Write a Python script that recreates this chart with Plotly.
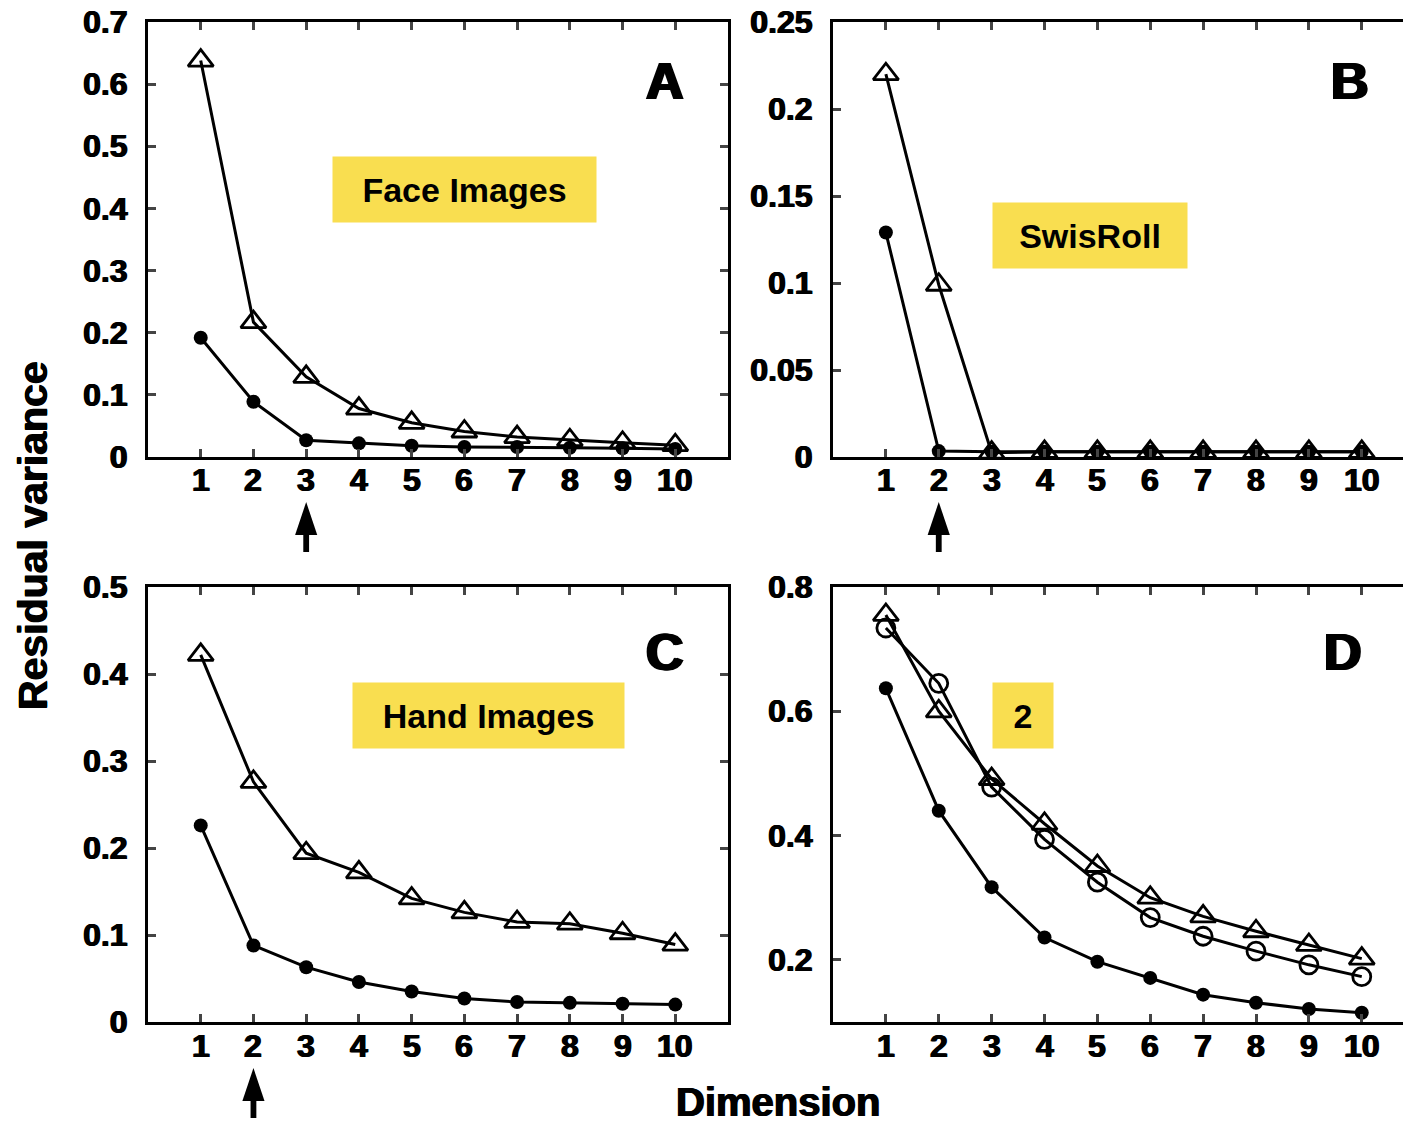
import plotly.graph_objects as go

# ---- data -------------------------------------------------------------
dims = [1, 2, 3, 4, 5, 6, 7, 8, 9, 10]
dim_labels = ["1", "2", "3", "4", "5", "6", "7", "8", "9", "10"]

face_tri = [0.638, 0.217, 0.129, 0.078, 0.055, 0.041, 0.032, 0.027, 0.023, 0.019]
face_dot = [0.192, 0.089, 0.027, 0.022, 0.018, 0.016, 0.016, 0.015, 0.014, 0.013]

swiss_tri = [0.220, 0.099, 0.0025, 0.003, 0.003, 0.003, 0.003, 0.003, 0.003, 0.003]
swiss_dot = [0.129, 0.0034, 0.003, 0.003, 0.003, 0.003, 0.003, 0.003, 0.003, 0.003]

hand_tri = [0.422, 0.276, 0.194, 0.172, 0.142, 0.126, 0.115, 0.113, 0.102, 0.089]
hand_dot = [0.226, 0.088, 0.063, 0.046, 0.035, 0.027, 0.023, 0.022, 0.021, 0.020]

d_tri = [0.755, 0.600, 0.491, 0.419, 0.351, 0.300, 0.270, 0.246, 0.224, 0.202]
d_circ = [0.734, 0.645, 0.478, 0.394, 0.325, 0.268, 0.238, 0.214, 0.192, 0.173]
d_dot = [0.637, 0.440, 0.317, 0.236, 0.197, 0.171, 0.144, 0.131, 0.121, 0.115]

yticks_a = [0, 0.1, 0.2, 0.3, 0.4, 0.5, 0.6, 0.7]
ytext_a = ["0", "0.1", "0.2", "0.3", "0.4", "0.5", "0.6", "0.7"]
yticks_b = [0, 0.05, 0.1, 0.15, 0.2, 0.25]
ytext_b = ["0", "0.05", "0.1", "0.15", "0.2", "0.25"]
yticks_c = [0, 0.1, 0.2, 0.3, 0.4, 0.5]
ytext_c = ["0", "0.1", "0.2", "0.3", "0.4", "0.5"]
yticks_d = [0.2, 0.4, 0.6, 0.8]
ytext_d = ["0.2", "0.4", "0.6", "0.8"]

panel_letters = ["A", "B", "C", "D"]
panel_names = ["Face Images", "SwisRoll", "Hand Images", "2"]
arrow_dims = [3, 2, 2]  # intrinsic dimensionality marked under A, B, C

# ---- figure -----------------------------------------------------------
W, H = 1403, 1126
FONT = "Liberation Sans, Arial, sans-serif"
YELLOW = "#F9DE50"
HEAVY = "0.7px 0 0 black, -0.7px 0 0 black"


def px(x):
    return x / W


def py(y):
    return 1 - y / H


fig = go.Figure()

LINE = dict(color="black", width=3)
TRI = dict(symbol="triangle-up-open", size=22, color="black", line=dict(width=2.8, color="black"))
DOT = dict(symbol="circle", size=14, color="black")
CIRC = dict(symbol="circle-open", size=18, color="black", line=dict(width=2.8, color="black"))


def add(y, marker, xa, ya):
    fig.add_trace(go.Scatter(x=dims, y=y, mode="lines+markers", line=LINE,
                             marker=marker, xaxis=xa, yaxis=ya,
                             showlegend=False, hoverinfo="skip"))


add(face_dot, DOT, "x", "y")
add(face_tri, TRI, "x", "y")
add(swiss_dot, DOT, "x2", "y2")
add(swiss_tri, TRI, "x2", "y2")
add(hand_dot, DOT, "x3", "y3")
add(hand_tri, TRI, "x3", "y3")
add(d_dot, DOT, "x4", "y4")
add(d_circ, CIRC, "x4", "y4")
add(d_tri, TRI, "x4", "y4")

tickfont = dict(family=FONT, size=32, color="black", weight="bold", shadow=HEAVY)

left_dom = [px(148), px(728)]
right_dom = [px(833), 1.0]
top_dom = [py(457), py(22)]
bot_dom = [py(1022), py(587)]


def xaxis(dom, rng, anchor):
    # dimension labels are placed as annotations just under the frame
    return dict(domain=dom, range=rng, anchor=anchor, tickvals=dims,
                showticklabels=False, ticks="inside", ticklen=8,
                tickwidth=2.5, showline=True, linewidth=3, linecolor="black",
                mirror="ticks", showgrid=False, zeroline=False, automargin=False,
                fixedrange=True)


def yaxis(dom, rng, anchor, vals, text, full):
    return dict(domain=dom, range=rng, anchor=anchor, tickvals=vals,
                ticktext=text, ticks="inside", ticklen=8, tickwidth=2.5,
                showline=True, linewidth=3, linecolor="black",
                mirror="ticks" if full else False, showgrid=False,
                zeroline=False, automargin=False, tickfont=tickfont,
                ticklabelstandoff=11, fixedrange=True)


fig.update_layout(
    width=W, height=H,
    margin=dict(l=0, r=0, t=0, b=0, autoexpand=False),
    paper_bgcolor="white", plot_bgcolor="white",
    xaxis=xaxis(left_dom, [0, 11], "y"),
    yaxis=yaxis(top_dom, [0, 0.7], "x", yticks_a, ytext_a, True),
    xaxis2=xaxis(right_dom, [0, 10.78], "y2"),
    yaxis2=yaxis(top_dom, [0, 0.25], "x2", yticks_b, ytext_b, False),
    xaxis3=xaxis(left_dom, [0, 11], "y3"),
    yaxis3=yaxis(bot_dom, [0, 0.5], "x3", yticks_c, ytext_c, True),
    xaxis4=xaxis(right_dom, [0, 10.78], "y4"),
    yaxis4=yaxis(bot_dom, [0.1, 0.8], "x4", yticks_d, ytext_d, False),
)

ann = []

# dimension tick labels under each panel
for xa, label_y in (("x", 480), ("x2", 480), ("x3", 1046), ("x4", 1046)):
    for d, lab in zip(dims, dim_labels):
        ann.append(dict(x=d, xref=xa, y=py(label_y), yref="paper", text=lab,
                        showarrow=False, xanchor="center", yanchor="middle",
                        font=tickfont))

# panel letters
letter_pos = [(665, 81), (1350, 81), (665, 652), (1343, 652)]
for letter, (lx, ly) in zip(panel_letters, letter_pos):
    ann.append(dict(x=px(lx), y=py(ly), xref="paper", yref="paper",
                    text=letter, showarrow=False, xanchor="center", yanchor="middle",
                    font=dict(family=FONT, size=52, color="black", weight="bold",
                              shadow="1.5px 0 0 black, -1.5px 0 0 black")))

# yellow name tags
boxes = [(333, 596, 157, 222), (993, 1187, 203, 268),
         (353, 624, 683, 748), (993, 1053, 683, 748)]
for name, (x0, x1, y0, y1) in zip(panel_names, boxes):
    ann.append(dict(x=px((x0 + x1) / 2), y=py((y0 + y1) / 2), xref="paper", yref="paper",
                    text=name, showarrow=False, xanchor="center", yanchor="middle",
                    width=x1 - x0, height=y1 - y0, bgcolor=YELLOW, borderpad=0,
                    font=dict(family=FONT, size=34, color="black", weight="bold")))

# arrows marking the estimated dimension (head + shaft, centred on the dimension)
shapes = []
arrow_axes = ["x", "x2", "x3"]
arrow_tips = [502, 502, 1068]
HEAD_HALF, SHAFT_HALF = 0.21, 0.055
for d, xa, tip in zip(arrow_dims, arrow_axes, arrow_tips):
    yt, yb, ye = py(tip), py(tip + 33), py(tip + 50)
    head = f"M {d - HEAD_HALF},{yb} L {d + HEAD_HALF},{yb} L {d},{yt} Z"
    shaft = (f"M {d - SHAFT_HALF},{yb} L {d + SHAFT_HALF},{yb} "
             f"L {d + SHAFT_HALF},{ye} L {d - SHAFT_HALF},{ye} Z")
    for p in (head, shaft):
        shapes.append(dict(type="path", path=p, xref=xa, yref="paper",
                           fillcolor="black", line=dict(width=0)))

# shared axis titles
ann.append(dict(x=px(33), y=py(536), xref="paper", yref="paper",
                text="Residual variance", textangle=-90, showarrow=False,
                xanchor="center", yanchor="middle",
                font=dict(family=FONT, size=41, color="black", weight="bold", shadow=HEAVY)))
ann.append(dict(x=px(778), y=py(1125), xref="paper", yref="paper",
                text="Dimension", showarrow=False, xanchor="center", yanchor="bottom",
                borderpad=0,
                font=dict(family=FONT, size=40, color="black", weight="bold", shadow=HEAVY)))

fig.update_layout(annotations=ann, shapes=shapes)

fig.write_html("out.html", config={"displayModeBar": False})
